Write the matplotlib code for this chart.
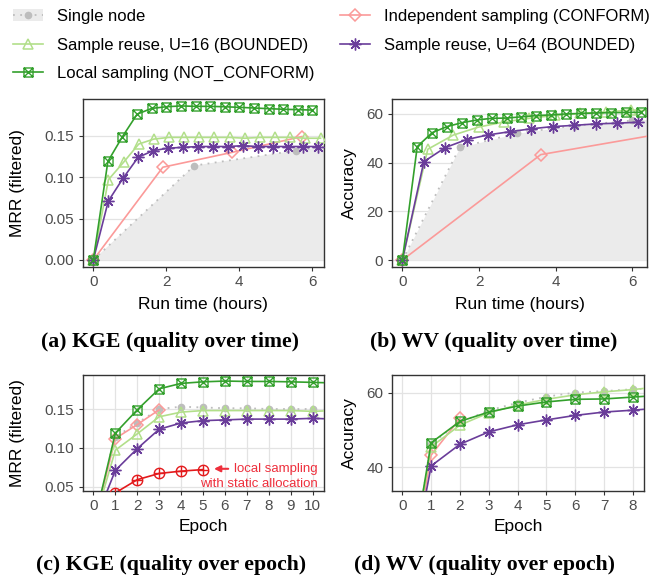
import numpy as np
import matplotlib
matplotlib.use("Agg")
import matplotlib.pyplot as plt
from matplotlib.path import Path
from matplotlib.lines import Line2D
from matplotlib.patches import Patch

plt.rcParams['font.family'] = ['Liberation Sans', 'DejaVu Sans']

# ---------------- data ----------------
# KGE: MRR (filtered) per epoch, and run time (hours) per epoch
kge_local = [0, 0.119, 0.149, 0.176, 0.183, 0.185, 0.186, 0.1855, 0.1855, 0.185, 0.1843,
             0.1835, 0.1827, 0.182, 0.1815, 0.181]
kge_local_hpe = 0.4
kge_u16 = [0, 0.097, 0.118, 0.140, 0.146, 0.148, 0.148, 0.148, 0.148, 0.148, 0.147,
           0.148, 0.148, 0.148, 0.147, 0.147]
kge_u16_hpe = 0.415
kge_u64 = [0, 0.071, 0.099, 0.124, 0.132, 0.135, 0.136, 0.137, 0.137, 0.137, 0.138,
           0.137, 0.137, 0.137, 0.137, 0.137]
kge_u64_hpe = 0.41
kge_indep = [0, 0.112, 0.130, 0.149]
kge_indep_hpe = 1.905
kge_single = [0, 0.114, 0.132, 0.150, 0.153, 0.152, 0.151, 0.151, 0.150, 0.150, 0.150]
kge_single_hpe = 2.77
kge_static = [0, 0.042, 0.059, 0.067, 0.070, 0.072]

# WV: accuracy per epoch, and run time (hours) per epoch
wv_local = [0, 46.6, 52.3, 54.8, 56.4, 57.5, 58.2, 58.3, 58.8, 59.3, 59.6, 60.0, 60.2,
            60.4, 60.5, 60.6, 60.7]
wv_local_hpe = 0.3885
wv_u16 = [0, 45.5, 51.3, 54.6, 56.7, 58.2, 59.4, 60.2, 60.8, 61.6, 61.3]
wv_u16_hpe = 0.663
wv_u64 = [0, 40.4, 46.2, 49.5, 51.4, 52.7, 53.9, 54.8, 55.3, 55.9, 56.2, 56.6]
wv_u64_hpe = 0.56
wv_indep = [0, 43.3, 53.1]
wv_indep_hpe = 3.61
wv_single = [0, 46.3, 52.1, 55.2, 57.3, 58.9, 60.0, 60.4, 60.9, 61.2]
wv_single_hpe = 1.5

labels = {
    'single': 'Single node',
    'u16': 'Sample reuse, U=16 (BOUNDED)',
    'local': 'Local sampling (NOT_CONFORM)',
    'indep': 'Independent sampling (CONFORM)',
    'u64': 'Sample reuse, U=64 (BOUNDED)',
}
captions = ['(a) KGE (quality over time)', '(b) WV (quality over time)',
            '(c) KGE (quality over epoch)', '(d) WV (quality over epoch)']

# ---------------- styles ----------------
C_DG = '#33a02c'
C_LG = '#b2df8a'
C_PU = '#6a3d9a'
C_PK = '#fb9a99'
C_RD = '#e31a1c'
C_GR = '#bdbdbd'
C_FILL = '#ebebeb'

sqx = Path([(-1, -1), (1, -1), (1, 1), (-1, 1), (-1, -1), (-1, -1), (1, 1), (-1, 1), (1, -1)],
           [Path.MOVETO, Path.LINETO, Path.LINETO, Path.LINETO, Path.CLOSEPOLY,
            Path.MOVETO, Path.LINETO, Path.MOVETO, Path.LINETO])
circ = Path.unit_circle()
cplus = Path.make_compound_path(circ, Path([(-1, 0), (1, 0)], [Path.MOVETO, Path.LINETO]),
                                Path([(0, -1), (0, 1)], [Path.MOVETO, Path.LINETO]))

LW = 1.2
styles = {
    'local': dict(color=C_DG, marker=sqx, ms=6.5, mfc='none', mec=C_DG, mew=1.0, lw=LW, zorder=6),
    'u16': dict(color=C_LG, marker='^', ms=7.5, mfc='none', mec=C_LG, mew=1.1, lw=LW, zorder=4),
    'u64': dict(color=C_PU, marker=(8, 2, 0), ms=8.5, mec=C_PU, mew=1.0, lw=LW, zorder=5),
    'indep': dict(color=C_PK, marker='D', ms=6, mfc='none', mec=C_PK, mew=1.1, lw=LW, zorder=3),
    'single': dict(color=C_GR, marker='o', ms=4.5, mfc=C_GR, mec=C_GR, lw=1.3,
                   ls=(0, (1, 3)), zorder=2),
    'static': dict(color=C_RD, marker=cplus, ms=7.5, mfc='none', mec=C_RD, mew=1.0, lw=LW, zorder=5),
}

W, H = 667, 582
fig = plt.figure(figsize=(W / 100, H / 100), dpi=100)


def ax_px(l, t, r, b):
    return fig.add_axes([l / W, 1 - b / H, (r - l) / W, (b - t) / H])


TICK_C = '#4d4d4d'


def style_ax(ax, vgrid):
    for s in ax.spines.values():
        s.set_color('#333333')
        s.set_linewidth(1.0)
    ax.tick_params(length=3, width=0.8, color='#333333', labelcolor=TICK_C, labelsize=11, pad=3)
    ax.grid(axis='y', color='#e3e3e3', lw=0.9, zorder=0)
    if vgrid:
        ax.grid(axis='x', color='#e3e3e3', lw=0.9, zorder=0)
    ax.set_axisbelow(True)


def tarr(vals, hpe):
    return np.arange(len(vals)) * hpe


ax_a = ax_px(82.7, 99.3, 324, 266.7)
ax_b = ax_px(391.7, 99.3, 647.3, 266.7)
ax_c = ax_px(82.7, 375, 324, 491)
ax_d = ax_px(391.7, 375, 644, 491)

# (a)
ts = tarr(kge_single, kge_single_hpe)
ax_a.fill_between(ts, 0, kge_single, color=C_FILL, lw=0, zorder=1)
ax_a.plot(ts, kge_single, **styles['single'])
ax_a.plot(tarr(kge_indep, kge_indep_hpe), kge_indep, **styles['indep'])
ax_a.plot(tarr(kge_u16, kge_u16_hpe), kge_u16, **styles['u16'])
ax_a.plot(tarr(kge_u64, kge_u64_hpe), kge_u64, **styles['u64'])
ax_a.plot(tarr(kge_local, kge_local_hpe), kge_local, **styles['local'])
ax_a.set_xlim(-0.29, 6.32)
ax_a.set_ylim(-0.0081, 0.194)
ax_a.set_xticks([0, 2, 4, 6])
ax_a.set_yticks([0, 0.05, 0.10, 0.15])
ax_a.set_yticklabels(['0.00', '0.05', '0.10', '0.15'])
ax_a.set_xlabel('Run time (hours)', fontsize=12.5, labelpad=6)
ax_a.set_ylabel('MRR (filtered)', fontsize=12.5, labelpad=14)
style_ax(ax_a, False)

# (b)
ts = tarr(wv_single, wv_single_hpe)
ax_b.fill_between(ts, 0, wv_single, color=C_FILL, lw=0, zorder=1)
ax_b.plot(ts, wv_single, **styles['single'])
ax_b.plot(tarr(wv_indep, wv_indep_hpe), wv_indep, **styles['indep'])
ax_b.plot(tarr(wv_u16, wv_u16_hpe), wv_u16, **styles['u16'])
ax_b.plot(tarr(wv_u64, wv_u64_hpe), wv_u64, **styles['u64'])
ax_b.plot(tarr(wv_local, wv_local_hpe), wv_local, **styles['local'])
ax_b.set_xlim(-0.278, 6.39)
ax_b.set_ylim(-2.7, 66.0)
ax_b.set_xticks([0, 2, 4, 6])
ax_b.set_yticks([0, 20, 40, 60])
ax_b.set_xlabel('Run time (hours)', fontsize=12.5, labelpad=6)
ax_b.set_ylabel('Accuracy', fontsize=12.5, labelpad=7)
style_ax(ax_b, False)

# (c)
ax_c.plot(range(len(kge_single)), kge_single, **styles['single'])
ax_c.plot(range(len(kge_indep)), kge_indep, **styles['indep'])
ax_c.plot(range(len(kge_u16)), kge_u16, **styles['u16'])
ax_c.plot(range(len(kge_u64)), kge_u64, **styles['u64'])
ax_c.plot(range(len(kge_local)), kge_local, **styles['local'])
ax_c.plot(range(len(kge_static)), kge_static, **styles['static'])
ax_c.set_xlim(-0.49, 10.52)
ax_c.set_ylim(0.0444, 0.1938)
ax_c.set_xticks(range(0, 11))
ax_c.set_yticks([0.05, 0.10, 0.15])
ax_c.set_yticklabels(['0.05', '0.10', '0.15'])
ax_c.set_xlabel('Epoch', fontsize=12.5, labelpad=4)
ax_c.set_ylabel('MRR (filtered)', fontsize=12.5, labelpad=14)
style_ax(ax_c, True)
ax_c.annotate('', xy=(5.5, 0.073), xytext=(6.15, 0.073),
              arrowprops=dict(arrowstyle='-|>', color='#ee2f3c', lw=1.5,
                              mutation_scale=9, shrinkA=0, shrinkB=0))
ax_c.text(10.25, 0.0722, 'local sampling', color='#ee2f3c', fontsize=9.5,
          ha='right', va='center')
ax_c.text(10.25, 0.0538, 'with static allocation', color='#ee2f3c', fontsize=9.5,
          ha='right', va='center')

# (d)
ax_d.plot(range(len(wv_single)), wv_single, **styles['single'])
ax_d.plot(range(len(wv_indep)), wv_indep, **styles['indep'])
ax_d.plot(range(len(wv_u16)), wv_u16, **styles['u16'])
ax_d.plot(range(len(wv_u64)), wv_u64, **styles['u64'])
ax_d.plot(range(len(wv_local)), wv_local, **styles['local'])
ax_d.set_xlim(-0.37, 8.39)
ax_d.set_ylim(33.7, 64.7)
ax_d.set_xticks(range(0, 9))
ax_d.set_yticks([40, 60])
ax_d.set_xlabel('Epoch', fontsize=12.5, labelpad=4)
ax_d.set_ylabel('Accuracy', fontsize=12.5, labelpad=7)
style_ax(ax_d, True)

# captions
cap_kw = dict(fontsize=15.7, fontweight='bold', family=['Liberation Serif', 'DejaVu Serif'],
              ha='center', va='center')
fig.text(170 / W, 1 - 342 / H, captions[0], **cap_kw)
fig.text(494 / W, 1 - 342 / H, captions[1], **cap_kw)
fig.text(171 / W, 1 - 565 / H, captions[2], **cap_kw)
fig.text(484 / W, 1 - 565 / H, captions[3], **cap_kw)

# legend
def lh(key):
    s = dict(styles[key])
    s.pop('zorder', None)
    return Line2D([], [], **s)

h_single = (Patch(facecolor=C_FILL, edgecolor='none'), lh('single'))
handles = [h_single, lh('u16'), lh('local'), lh('indep'), lh('u64')]
labs = [labels['single'], labels['u16'], labels['local'], labels['indep'], labels['u64']]
fig.legend(handles, labs, loc='upper left', bbox_to_anchor=(13 / W, 1 - 9 / H), ncol=2,
           frameon=False, fontsize=12, handlelength=1.8, handletextpad=0.85,
           columnspacing=1.5, labelspacing=0.82, borderpad=0, borderaxespad=0)

fig.savefig('out.png', dpi=100)
